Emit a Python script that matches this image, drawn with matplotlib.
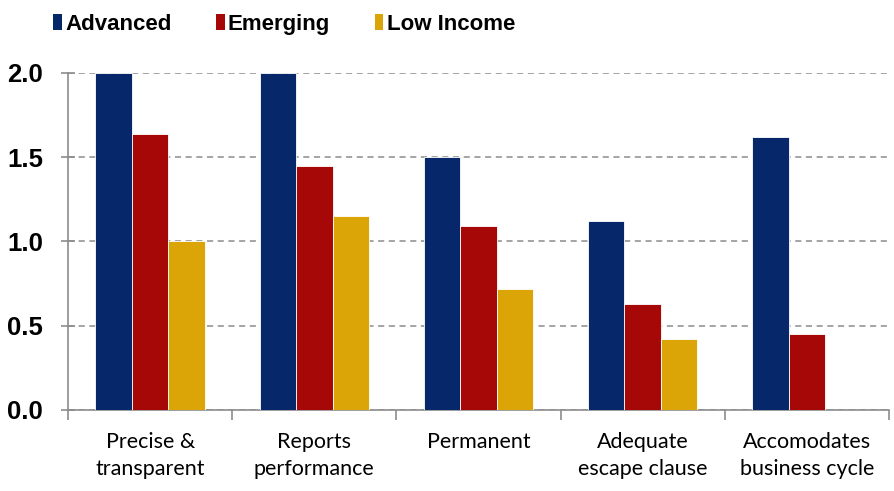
import numpy as np
import matplotlib
import matplotlib.pyplot as plt
from matplotlib.patches import Patch

matplotlib.rcParams['font.family'] = ['Liberation Sans', 'DejaVu Sans']

categories = ['Precise &\ntransparent', 'Reports\nperformance', 'Permanent',
              'Adequate\nescape clause', 'Accomodates\nbusiness cycle']
advanced = [2.0, 2.0, 1.5, 1.12, 1.62]
emerging = [1.64, 1.45, 1.09, 0.63, 0.45]
low_income = [1.0, 1.15, 0.72, 0.42, 0.0]

series = ['Advanced', 'Emerging', 'Low Income']
colors = ['#062769', '#A60707', '#DBA507']

fig = plt.figure(figsize=(8.94, 4.91), dpi=100)
ax = fig.add_axes([0.0761, 0.165, 0.9183, 0.6865])

idx = np.arange(len(categories))
width = 0.222
for k, (vals, c) in enumerate(zip([advanced, emerging, low_income], colors)):
    ax.bar(idx + (k - 1) * width, vals, width, color=c, edgecolor='white',
           linewidth=0.6, zorder=3)

ax.set_xlim(-0.5, len(categories) - 0.5)
ax.set_ylim(0, 2.0)
ax.set_yticks([0, 0.5, 1.0, 1.5, 2.0])
ax.set_yticklabels(['0.0', '0.5', '1.0', '1.5', '2.0'], fontsize=18.5, fontweight='bold')
ax.yaxis.grid(True, linestyle=(0, (4, 3)), color='#8c8c8c', linewidth=1.1, zorder=0)
ax.tick_params(axis='y', direction='inout', length=10, color='#8c8c8c', width=1.2, pad=13)

ax.set_xticks(idx)
ax.set_xticklabels(categories, fontsize=15.5, family=['Lato', 'DejaVu Sans'], linespacing=1.4)
ax.tick_params(axis='x', which='major', length=0, pad=16)
ax.set_xticks(np.arange(-0.5, len(categories)), minor=True)
ax.tick_params(axis='x', which='minor', direction='out', length=7, color='#8c8c8c', width=1.2)

for s in ['top', 'right']:
    ax.spines[s].set_visible(False)
for s in ['left', 'bottom']:
    ax.spines[s].set_color('#8c8c8c')
    ax.spines[s].set_linewidth(1.2)
ax.spines['left'].set_zorder(4)

handles = [Patch(facecolor=c, label=l) for c, l in zip(colors, series)]
fig.legend(handles=handles, loc='upper left', bbox_to_anchor=(0.037, 1.012), ncol=3,
           frameon=False, prop={'size': 16, 'weight': 'bold'},
           handlelength=0.4, handleheight=0.75, handletextpad=0.14, columnspacing=2.0)

fig.savefig('out.png', dpi=100)
